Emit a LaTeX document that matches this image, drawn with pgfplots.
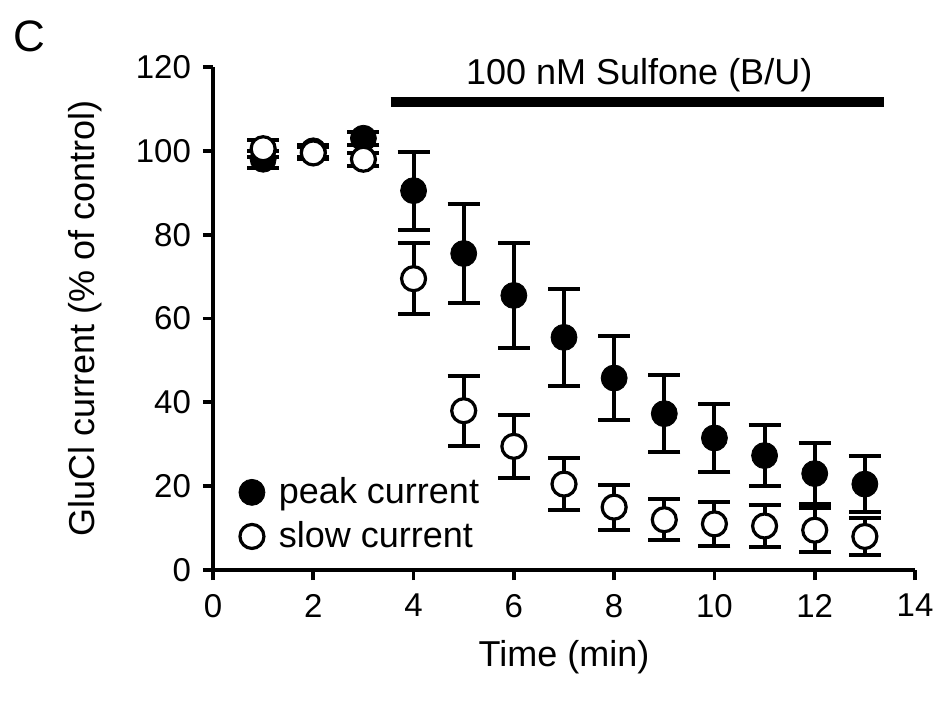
\documentclass[border=0pt]{standalone}
\usepackage{pgfplots}
\pgfplotsset{compat=1.18}
\usepackage{pgfplotstable}
\usepackage{fontspec}
\setmainfont{Liberation Sans}
\pgfplotstableread{
t y e
1 98 2
2 100 1.5
3 103 1.5
4 90.5 9.3
5 75.5 11.8
6 65.5 12.5
7 55.5 11.5
8 45.8 10.1
9 37.3 9.2
10 31.5 8.1
11 27.3 7.2
12 23 7.3
13 20.5 6.6
}\peak
\pgfplotstableread{
t y e
1 100.5 2
2 99.5 1.5
3 98 1.5
4 69.5 8.5
5 38 8.4
6 29.5 7.5
7 20.5 6.3
8 15 5.4
9 12 4.9
10 11 5.2
11 10.5 4.9
12 9.5 5.2
13 8 4.4
}\slow
\begin{document}
\begin{tikzpicture}
\path[use as bounding box] (-106.5pt,-69pt) rectangle (363.5pt,285pt);
\begin{axis}[
  at={(0,0)}, anchor=south west,
  scale only axis, width=351pt, height=251.5pt,
  xmin=0, xmax=14, ymin=0, ymax=120,
  xtick={0,2,...,14}, ytick={0,20,...,120},
  axis lines=left, axis line style={-, line width=1.9pt},
  tick align=outside, major tick length=5pt,
  tick style={line width=1.9pt, black},
  /pgf/number format/assume math mode=true,
  ticklabel style={font=\fontsize{16.5}{19}\selectfont},
  yticklabel style={xshift=-2.5pt},
  xticklabel style={yshift=-3.5pt},
  label style={font=\fontsize{18}{21}\selectfont},
  xlabel={Time (min)}, ylabel={GluCl current (\% of control)},
  xlabel style={at={(axis description cs:0.5,-0.173)}, anchor=center},
  ylabel style={at={(axis description cs:-0.182,0.5)}, anchor=center},
  clip=false,
  legend style={at={(axis cs:0.39,24)}, anchor=north west, draw=none, fill=none,
    font=\fontsize{18}{21}\selectfont, row sep=3.5pt,
    /tikz/every odd column/.append style={column sep=5pt}},
  legend cell align=left,
]
\addplot[only marks, mark=*, mark size=6.5pt, black,
  error bars/.cd, y dir=both, y explicit,
  error bar style={line width=2pt, black},
  error mark options={rotate=90, mark size=8pt, line width=2pt, black}]
  table[x=t, y=y, y error=e]{\peak};
\addlegendentry{peak current}
\addplot[only marks, mark=*, mark size=6pt, mark options={fill=white, draw=black, line width=1.6pt},
  error bars/.cd, y dir=both, y explicit,
  error bar style={line width=2pt, black},
  error mark options={rotate=90, mark size=8pt, line width=2pt, black}]
  table[x=t, y=y, y error=e]{\slow};
\addlegendentry{slow current}
\addplot[line width=5pt, black, no marks, forget plot] coordinates {(3.54,111.6) (13.38,111.6)};
\node[font=\fontsize{18}{21}\selectfont, anchor=center] at (axis cs:8.5,118) {100 nM Sulfone (B/U)};
\end{axis}
\node[font=\fontsize{22}{26}\selectfont, anchor=center] at (-92pt,267pt) {C};
\end{tikzpicture}
\end{document}
